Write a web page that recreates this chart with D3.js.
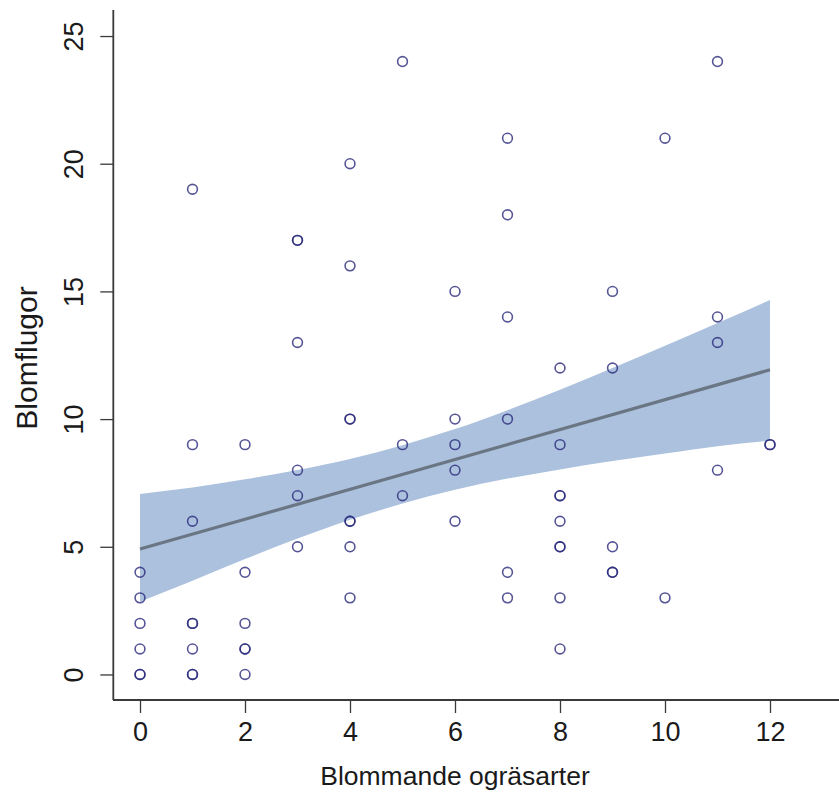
<!DOCTYPE html>
<html>
<head>
<meta charset="utf-8">
<script src="https://cdn.jsdelivr.net/npm/d3@7"></script>
<style>
  body { margin: 0; background: #fff; }
  text { font-family: "Liberation Sans", Arial, Helvetica, sans-serif; fill: #1a1a1a; }
</style>
</head>
<body>
<script>
// scatter data (x = blommande ogräsarter, y = blomflugor), duplicates kept
var ptX = [0,0,0,0,0,0,
           1,1,1,1,1,1,1,1,
           2,2,2,2,2,2,
           3,3,3,3,3,3,
           4,4,4,4,4,4,4,4,
           5,5,5,
           6,6,6,6,6,
           7,7,7,7,7,7,
           8,8,8,8,8,8,8,8,8,
           9,9,9,9,9,
           10,10,
           11,11,11,11,
           12,12];
var ptY = [0,0,1,2,3,4,
           19,9,6,2,2,1,0,0,
           9,4,2,1,1,0,
           17,17,13,8,7,5,
           20,16,10,10,6,6,5,3,
           24,9,7,
           15,10,9,8,6,
           21,18,14,10,4,3,
           12,9,7,7,6,5,5,3,1,
           15,12,5,4,4,
           21,3,
           24,14,13,8,
           9,9];

// fitted line and confidence band
var lineX = [0, 12];
var lineY = [4.91, 11.93];
var bandX = [0, 1, 2, 3, 4, 5, 6, 7, 8, 9, 10, 11, 12];
var bandUpper = [7.07, 7.32, 7.64, 8.01, 8.44, 8.98, 9.61, 10.35, 11.15, 12.0, 12.87, 13.76, 14.66];
var bandLower = [2.85, 3.67, 4.52, 5.32, 6.06, 6.69, 7.23, 7.67, 8.03, 8.36, 8.65, 8.94, 9.15];

var xTicks = [0, 2, 4, 6, 8, 10, 12];
var yTicks = [0, 5, 10, 15, 20, 25];
var xLabel = "Blommande ogräsarter";
var yLabel = "Blomflugor";

var W = 839, H = 796;
var axisColor = "#3a3a3a";

var svg = d3.select("body").append("svg")
    .attr("width", W)
    .attr("height", H);

var x = d3.scaleLinear()
    .domain([-0.48, 12.48])
    .range([114.8, 795.2]);

var y = d3.scaleLinear()
    .domain([-1, 26])
    .range([700, 10.5]);

// confidence band
var band = bandX.map(function(v, i) { return {x: v, lo: bandLower[i], hi: bandUpper[i]}; });
svg.append("path")
    .datum(band)
    .attr("fill", "#abc1dd")
    .attr("d", d3.area()
      .curve(d3.curveMonotoneX)
      .x(function(d) { return x(d.x); })
      .y0(function(d) { return y(d.lo); })
      .y1(function(d) { return y(d.hi); }));

// regression line
svg.append("path")
    .datum(lineX.map(function(v, i) { return [v, lineY[i]]; }))
    .attr("fill", "none")
    .attr("stroke", "#6a7684")
    .attr("stroke-width", 3.2)
    .attr("d", d3.line()
      .x(function(d) { return x(d[0]); })
      .y(function(d) { return y(d[1]); }));

// points
svg.append("g")
  .selectAll("circle")
  .data(ptX.map(function(v, i) { return [v, ptY[i]]; }))
  .enter()
  .append("circle")
    .attr("cx", function(d) { return x(d[0]); })
    .attr("cy", function(d) { return y(d[1]); })
    .attr("r", 4.9)
    .attr("fill", "none")
    .attr("stroke", "#2b2b7c")
    .attr("stroke-opacity", 0.8)
    .attr("stroke-width", 1.6);

// bottom axis
var gx = svg.append("g")
    .attr("transform", "translate(0,700)")
    .call(d3.axisBottom(x).tickValues(xTicks).tickSize(13).tickPadding(9).tickFormat(d3.format("d")));
gx.select(".domain").remove();
gx.selectAll("line").attr("stroke", axisColor).attr("stroke-width", 1.3);
gx.selectAll("text").style("font-size", "27px").attr("fill", "#1a1a1a");
svg.append("line")
    .attr("x1", 113).attr("x2", W)
    .attr("y1", 700).attr("y2", 700)
    .attr("stroke", axisColor).attr("stroke-width", 1.8);

// left axis
var gy = svg.append("g")
    .attr("transform", "translate(113.3,0)")
    .call(d3.axisLeft(y).tickValues(yTicks).tickSize(13).tickFormat(d3.format("d")));
gy.select(".domain").remove();
gy.selectAll("line").attr("stroke", axisColor).attr("stroke-width", 1.3);
gy.selectAll("text")
    .attr("x", 0)
    .attr("dy", 0)
    .attr("text-anchor", "middle")
    .attr("transform", "translate(-30,0) rotate(-90)")
    .style("font-size", "27px")
    .attr("fill", "#1a1a1a");
svg.append("line")
    .attr("x1", 113.3).attr("x2", 113.3)
    .attr("y1", 10).attr("y2", 700)
    .attr("stroke", axisColor).attr("stroke-width", 1.8);

// axis titles
svg.append("text")
    .attr("x", 455)
    .attr("y", 785)
    .attr("text-anchor", "middle")
    .style("font-size", "26.5px")
    .text(xLabel);

svg.append("text")
    .attr("transform", "translate(37,358) rotate(-90)")
    .attr("text-anchor", "middle")
    .style("font-size", "30px")
    .text(yLabel);
</script>
</body>
</html>
